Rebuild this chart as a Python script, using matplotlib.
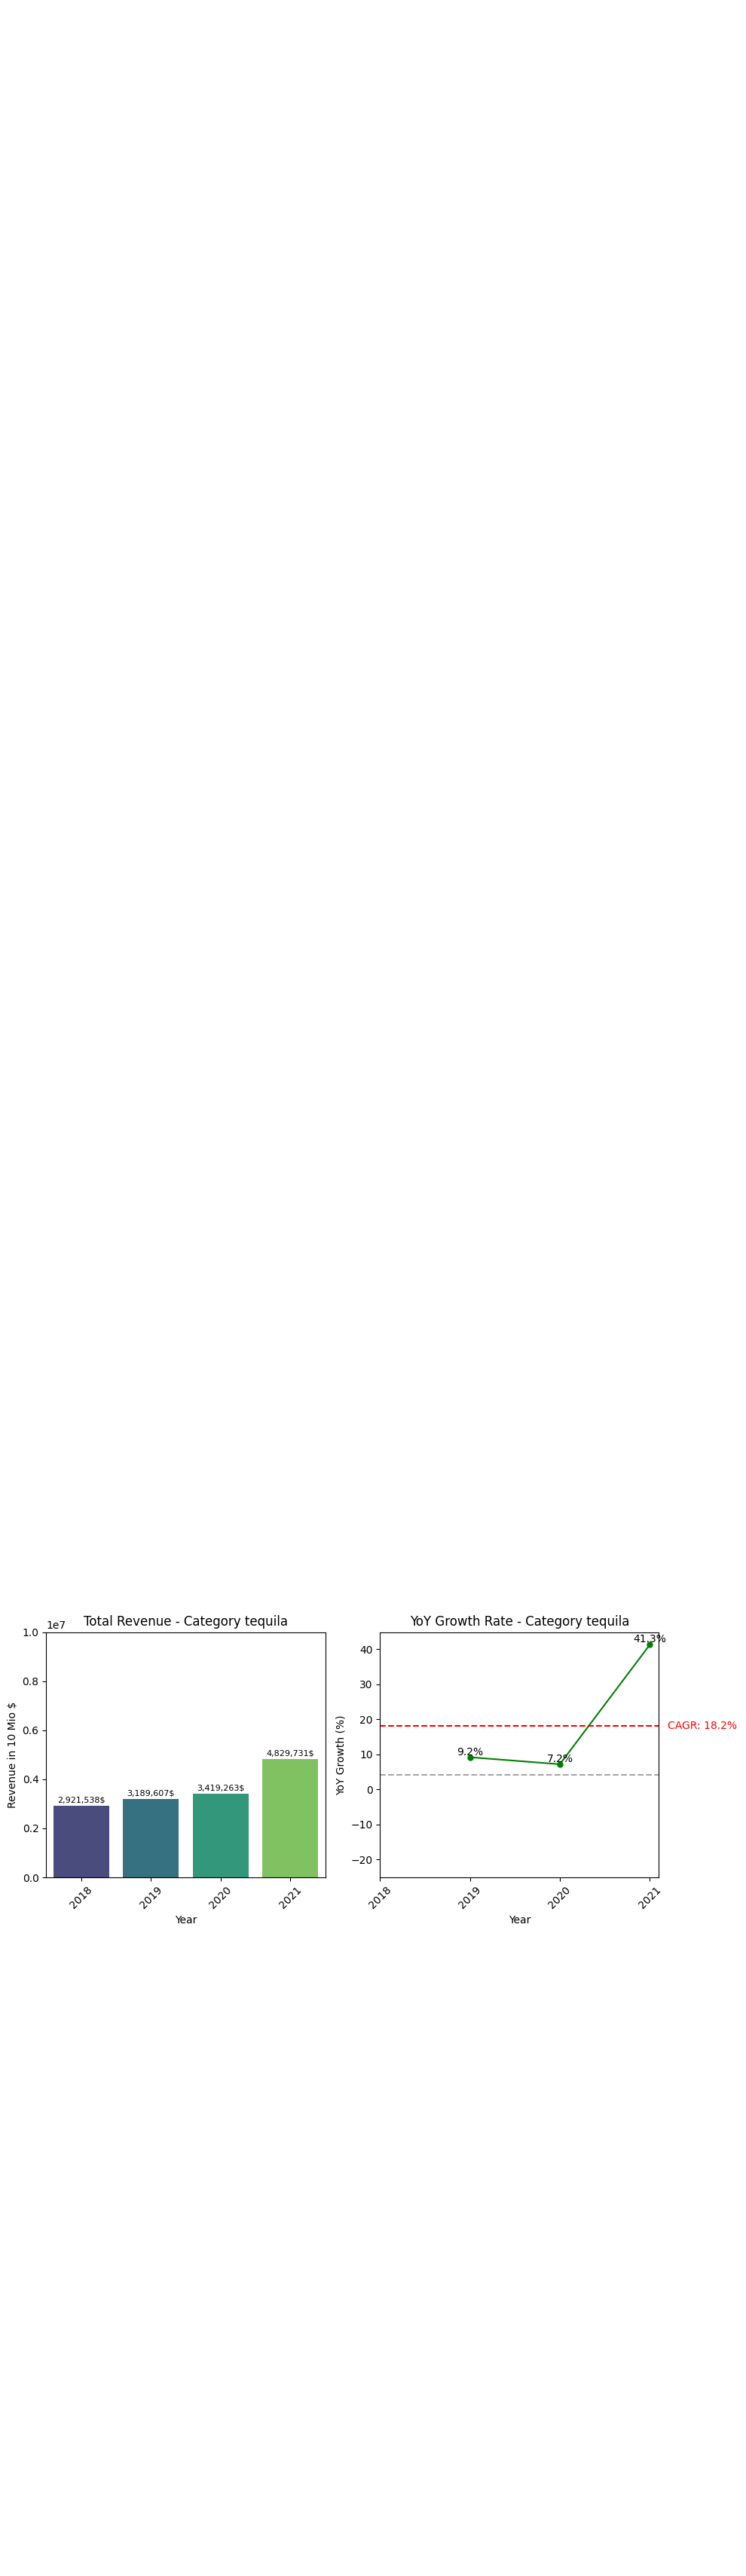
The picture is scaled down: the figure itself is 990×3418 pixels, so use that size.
"""
    Revenue and YoY growth for the tequila category.
"""
import numpy as np
import matplotlib
matplotlib.use("Agg")
import matplotlib.pyplot as plt
import seaborn as sns

years = [2018, 2019, 2020, 2021]
revenue = [2921538, 3189607, 3419263, 4829731]
growth_years = [2019, 2020, 2021]
growth = [9.2, 7.2, 41.3]
cagr = 18.2
baseline = 4.2
category = "tequila"


def plot_revenue(fname):
    fig = plt.figure(figsize=(9.9, 34.18), dpi=100)

    # left: revenue bars
    ax1 = fig.add_axes([0.0619, 0.2712, 0.3742, 0.0952])
    pal = [sns.desaturate(c, 0.75) for c in sns.color_palette("viridis", len(years))]
    pos = np.arange(len(years))
    bars = ax1.bar(pos, revenue, width=0.8, color=pal)
    for b, v in zip(bars, revenue):
        ax1.text(b.get_x() + b.get_width() / 2, v + 0.08e6, f"{v:,}$",
                 ha="center", va="bottom", fontsize=8)
    ax1.set_xlim(-0.5, len(years) - 0.5)
    ax1.set_ylim(0, 1e7)
    ax1.set_xticks(pos)
    ax1.set_xticklabels([str(y) for y in years], rotation=45)
    ax1.set_title(f"Total Revenue - Category {category}", fontsize=12)
    ax1.set_xlabel("Year")
    ax1.set_ylabel("Revenue in 10 Mio $")

    # right: yoy growth
    ax2 = fig.add_axes([0.5094, 0.2712, 0.3737, 0.0952])
    ax2.plot(growth_years, growth, color="green", marker="o", markersize=5, lw=1.5)
    for x, v in zip(growth_years, growth):
        ax2.text(x, v, f"{v}%", ha="center", va="bottom", fontsize=10)
    ax2.axhline(cagr, color="red", linestyle="--", lw=1.5)
    ax2.axhline(baseline, color="gray", linestyle="--", alpha=0.7, lw=1.5)
    ax2.text(2021.2, cagr, f"CAGR: {cagr}%", color="red", va="center", fontsize=10)
    ax2.set_xlim(2018, 2021.1)
    ax2.set_ylim(-25.1, 44.9)
    ax2.set_xticks(years)
    ax2.set_xticklabels([str(y) for y in years], rotation=45)
    ax2.set_title(f"YoY Growth Rate - Category {category}", fontsize=12)
    ax2.set_xlabel("Year")
    ax2.set_ylabel("YoY Growth (%)")

    plt.savefig(fname)


if __name__ == "__main__":
    plot_revenue("out.png")
